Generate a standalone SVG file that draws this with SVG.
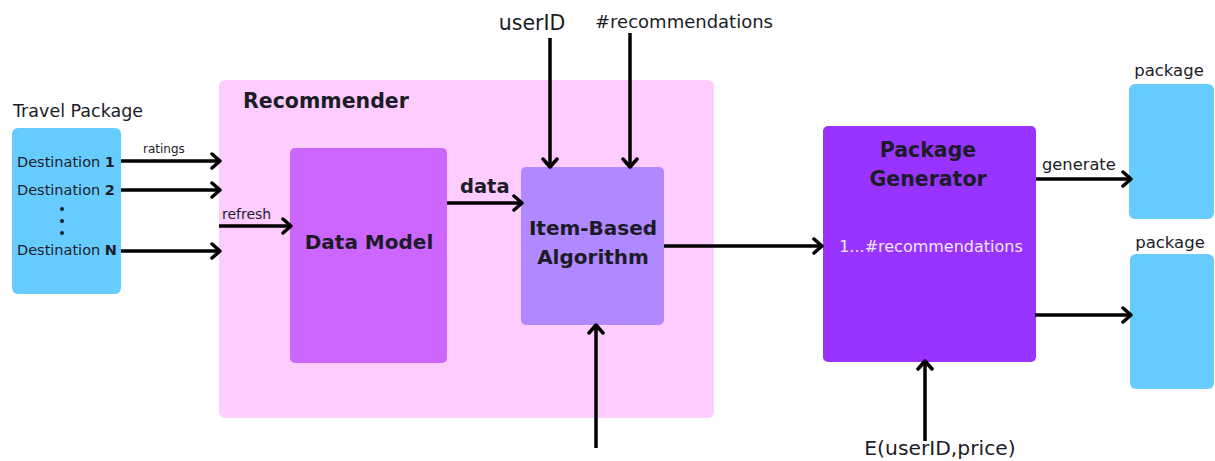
<svg xmlns="http://www.w3.org/2000/svg" width="1215" height="461" viewBox="0 0 1215 461">
  <style>
    text { font-family: "DejaVu Sans", Verdana, sans-serif; fill: #1c1c28; }
    .b { font-weight: bold; }
    .c { text-anchor: middle; }
    .wire { stroke: #000; stroke-width: 3.5; fill: none; marker-end: url(#chev); }
  </style>
  <defs>
    <marker id="chev" markerUnits="userSpaceOnUse" viewBox="0 0 12 18" refX="10" refY="9" markerWidth="12" markerHeight="18" orient="auto">
      <path d="M2,2 L10,9 L2,16" fill="none" stroke="#000" stroke-width="3.5" stroke-linecap="round" stroke-linejoin="round"/>
    </marker>
  </defs>

  <rect width="1215" height="461" fill="#fff"/>

  <!-- source list -->
  <g id="travel-package">
    <text x="13" y="117" font-size="17.5">Travel Package</text>
    <rect x="12" y="128" width="109" height="166" rx="6" fill="#66ccff"/>
    <text x="17" y="167" font-size="14.5">Destination <tspan class="b">1</tspan></text>
    <text x="17" y="195" font-size="14.5">Destination <tspan class="b">2</tspan></text>
    <text x="17" y="255" font-size="14.5">Destination <tspan class="b">N</tspan></text>
    <circle cx="62" cy="209" r="2" fill="#1c1c28"/>
    <circle cx="62" cy="221" r="2" fill="#1c1c28"/>
    <circle cx="62" cy="233" r="2" fill="#1c1c28"/>
  </g>

  <g id="recommender">
    <rect x="219" y="80" width="495" height="338" rx="6" fill="#ffccff"/>
    <text x="243" y="108" font-size="20.5" class="b">Recommender</text>
  </g>

  <g id="data-model">
    <rect x="290" y="148" width="157" height="215" rx="5" fill="#cc66ff"/>
    <text x="369" y="249" font-size="20" class="b c">Data Model</text>
  </g>

  <g id="item-based">
    <rect x="521" y="167" width="143" height="158" rx="5" fill="#b088ff"/>
    <text x="593" y="235" font-size="20" class="b c">Item-Based</text>
    <text x="593" y="264" font-size="20" class="b c">Algorithm</text>
  </g>

  <g id="package-generator">
    <rect x="823" y="126" width="213" height="236" rx="5" fill="#9933ff"/>
    <text x="928" y="157" font-size="20.5" class="b c">Package</text>
    <text x="928" y="186" font-size="20.5" class="b c">Generator</text>
    <text x="931" y="252" font-size="16" class="c" style="fill:#f2e6ff">1...#recommendations</text>
  </g>

  <g id="package-1">
    <text x="1169" y="76" font-size="16.5" class="c">package</text>
    <rect x="1129" y="84" width="85" height="135" rx="6" fill="#66ccff"/>
  </g>

  <g id="package-2">
    <text x="1170" y="248" font-size="16.5" class="c">package</text>
    <rect x="1130" y="254" width="84" height="135" rx="6" fill="#66ccff"/>
  </g>

  <g id="connectors">
    <path class="wire" d="M121,161 H220"/>
    <path class="wire" d="M121,190 H220"/>
    <path class="wire" d="M121,251 H220"/>
    <path class="wire" d="M219,226 H291"/>
    <path class="wire" d="M447,203 H522"/>
    <path class="wire" d="M550,38 V167"/>
    <path class="wire" d="M630,33 V167"/>
    <path class="wire" d="M596,448 V325"/>
    <path class="wire" d="M664,246 H822"/>
    <path class="wire" d="M925,441 V361"/>
    <path class="wire" d="M1036,179 H1131"/>
    <path class="wire" d="M1035,315 H1131"/>
  </g>

  <g id="labels">
    <text x="143" y="153" font-size="12">ratings</text>
    <text x="222" y="219" font-size="14">refresh</text>
    <text x="460" y="193" font-size="19.5" class="b">data</text>
    <text x="532" y="30" font-size="20.5" class="c">userID</text>
    <text x="684" y="28" font-size="18" class="c">#recommendations</text>
    <text x="940" y="455" font-size="20.3" class="c">E(userID,price)</text>
    <text x="1042" y="170" font-size="16.3">generate</text>
  </g>
</svg>
